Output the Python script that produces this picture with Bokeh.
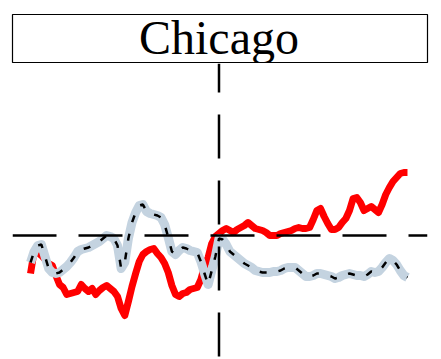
from bokeh.plotting import figure
from bokeh.models import Span, ColumnDataSource
from bokeh.core.properties import value
from bokeh.layouts import column
from bokeh.embed import file_html
from bokeh.resources import INLINE

# ---- data ----
city = "Chicago"
weeks = list(range(-52, 53))
red_series = [-38, -16, -17, -20, -24, -28, -30, -40, -49, -52,
              -59, -58, -57, -56, -49, -53, -56, -53, -59, -55,
              -52, -50, -53, -56, -61, -73, -80, -66, -51, -38,
              -26, -19, -16, -14, -13, -18, -22, -28, -37, -50,
              -59, -61, -58, -57, -54, -53, -52, -44, -31, -22,
              -8, -1, 2, 5, 7, 5, 3, 6, 8, 10,
              13, 10, 7, 6, 5, 3, 0, 0, 0, 2,
              3, 4, 5, 7, 8, 7, 7, 8, 16, 25,
              27, 19, 12, 6, 6, 8, 13, 17, 25, 37,
              38, 33, 25, 27, 29, 26, 23, 31, 41, 48,
              54, 58, 62, 63, 63]
blue_series = [-27, -16, -10, -9, -21, -33, -37, -38, -37, -34,
               -31, -27, -22, -16, -14, -13, -12, -10, -8, -6,
               -3, 0, -1, -3, -10, -33, -27, -3, 13, 23,
               30, 31, 24, 22, 21, 20, 18, 11, -2, -16,
               -19, -15, -12, -13, -15, -16, -17, -26, -38, -49,
               -35, -21, -3, -4, -9, -16, -19, -22, -25, -28,
               -30, -32, -35, -36, -37, -37, -37, -36, -36, -35,
               -33, -32, -32, -32, -35, -38, -41, -41, -40, -38,
               -38, -39, -40, -41, -43, -42, -40, -39, -38, -39,
               -40, -40, -41, -39, -36, -37, -36, -32, -27, -23,
               -25, -29, -35, -40, -42]
ref_x = 0
ref_y = 0

src = ColumnDataSource(dict(week=weeks, red=red_series, blue=blue_series))

# ---- strip (facet label) ----
strip = figure(width=441, height=63, x_range=(0, 415), y_range=(0, 49),
               output_backend="svg", toolbar_location=None,
               min_border_left=12, min_border_right=14, min_border_top=14,
               min_border_bottom=0)
strip.axis.visible = False
strip.grid.visible = False
strip.outline_line_color = "black"
strip.outline_line_width = 1.2
strip.text(x=[206.5], y=[26], text=[city], text_align="center",
           text_baseline="alphabetic", text_font=value("Liberation Serif"),
           text_font_size="48px", text_color="black")

# ---- panel ----
p = figure(width=441, height=296, x_range=(-56.97, 57.52), y_range=(-124, 172),
           output_backend="svg", toolbar_location=None,
           min_border_left=12, min_border_right=14, min_border_top=0,
           min_border_bottom=0)
p.axis.visible = False
p.grid.visible = False
p.outline_line_color = None

p.line("week", "red", source=src, line_color="#FF0000", line_width=7,
       line_join="round")
p.line("week", "blue", source=src, line_color="#C4D3E0", line_width=9,
       line_join="round")
p.line("week", "blue", source=src, line_color="black", line_width=2.5,
       line_dash="7 12")

p.add_layout(Span(location=ref_y, dimension="width", line_color="black",
                  line_width=2.5, line_dash="44 22"))
p.add_layout(Span(location=ref_x, dimension="height", line_color="black",
                  line_width=2.5, line_dash="44 22", line_dash_offset=15))

layout = column(strip, p)
open("out.html", "w").write(file_html(layout, INLINE))
